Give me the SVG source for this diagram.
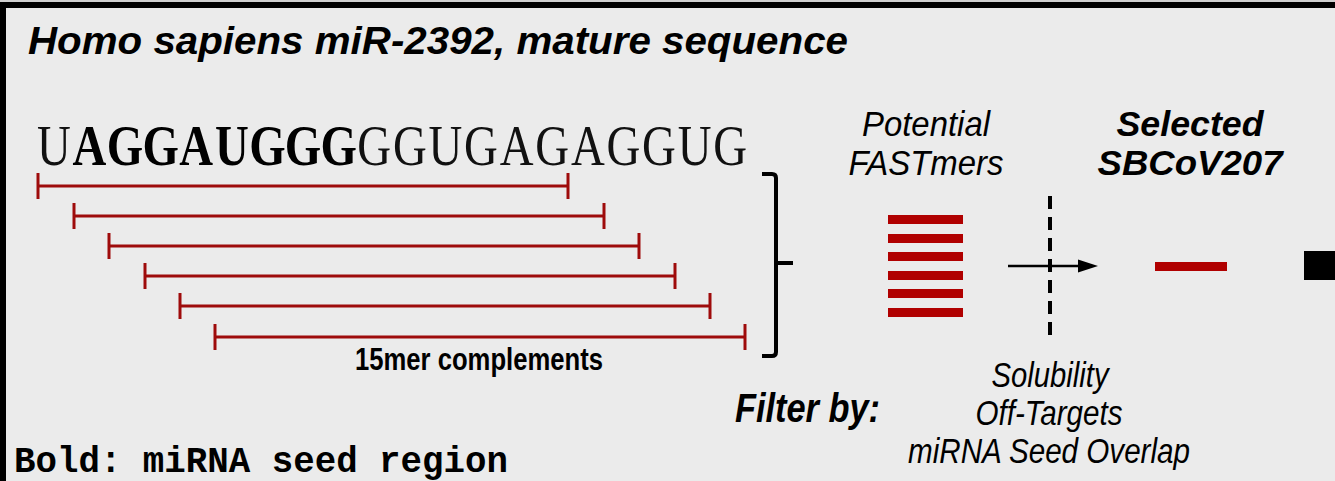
<svg xmlns="http://www.w3.org/2000/svg" width="1335" height="481" viewBox="0 0 1335 481">
  <style>
    .sans { font-family: "Liberation Sans", Arial, sans-serif; fill: #000; }
    .serif { font-family: "Liberation Serif", "Times New Roman", serif; fill: #111; }
    .mono { font-family: "Liberation Mono", "Courier New", monospace; fill: #000; }
    .it { font-style: italic; }
    .bd { font-weight: bold; }
    .span { stroke: #9e0b0b; stroke-width: 3; fill: none; }
    .bar { fill: #b00000; }
    .ink { stroke: #000; fill: none; }
  </style>
  <defs>
    <!-- one 15mer span: horizontal bar with end ticks, 530 px long -->
    <g id="span15">
      <line class="span" x1="0" y1="0" x2="530" y2="0"/>
      <line class="span" x1="0" y1="-13" x2="0" y2="13"/>
      <line class="span" x1="530" y1="-13" x2="530" y2="13"/>
    </g>
  </defs>

  <!-- panel background and frame -->
  <rect x="0" y="0" width="1335" height="481" fill="#ebebeb"/>
  <rect x="0" y="0" width="1335" height="2" fill="#cfcfcf"/>
  <rect x="0" y="2" width="1335" height="6" fill="#000"/>
  <rect x="0" y="2" width="6" height="479" fill="#000"/>

  <g id="title">
    <text class="sans it bd" x="28" y="54" font-size="39" textLength="820" lengthAdjust="spacingAndGlyphs">Homo sapiens miR-2392, mature sequence</text>
  </g>

  <!-- sequence set on a fixed 35.6 px grid, one glyph centred per cell -->
  <g id="sequence">
    <text class="serif" transform="translate(0,165) scale(0.9,1.08)" y="0" font-size="52" text-anchor="middle"><tspan x="59.78">U</tspan><tspan class="bd" fill="#000" x="99.33 138.89 178.44 218.0 257.56 297.11 336.67 376.22">AGGAUGGG</tspan><tspan x="415.78 455.33 494.89 534.44 574.0 613.56 653.11 692.67 732.22 771.78 811.33">GGUGAGAGGUG</tspan></text>
  </g>

  <g id="complements">
    <use href="#span15" x="38" y="186"/>
    <use href="#span15" x="74" y="216"/>
    <use href="#span15" x="109" y="246"/>
    <use href="#span15" x="145" y="276"/>
    <use href="#span15" x="180" y="306"/>
    <use href="#span15" x="215" y="337"/>
    <text class="sans bd" x="479" y="370" font-size="31" text-anchor="middle" textLength="248" lengthAdjust="spacingAndGlyphs">15mer complements</text>
  </g>

  <g id="connectors">
    <!-- brace gathering the complements -->
    <path class="ink" stroke-width="4" d="M762,174 H772 Q776,174 776,178 V352 Q776,356 772,356 H762 M776,263 H793"/>
    <!-- filter gate and arrow -->
    <line class="ink" stroke-width="4" stroke-dasharray="13,8" x1="1050" y1="196" x2="1050" y2="338"/>
    <line class="ink" stroke-width="2.5" x1="1008" y1="266" x2="1082" y2="266"/>
    <polygon points="1078,259.5 1098,266 1078,272.5" fill="#000"/>
  </g>

  <g id="potential">
    <text class="sans it" font-size="35" text-anchor="middle"><tspan x="926" y="136" textLength="128" lengthAdjust="spacingAndGlyphs">Potential</tspan><tspan x="926" y="175" textLength="155" lengthAdjust="spacingAndGlyphs">FASTmers</tspan></text>
    <rect class="bar" x="888" y="215" width="75" height="9"/>
    <rect class="bar" x="888" y="234" width="75" height="9"/>
    <rect class="bar" x="888" y="252" width="75" height="9"/>
    <rect class="bar" x="888" y="271" width="75" height="9"/>
    <rect class="bar" x="888" y="289" width="75" height="9"/>
    <rect class="bar" x="888" y="308" width="75" height="9"/>
  </g>

  <g id="selected">
    <text class="sans it bd" font-size="35" text-anchor="middle"><tspan x="1190" y="136" textLength="147" lengthAdjust="spacingAndGlyphs">Selected</tspan><tspan x="1190" y="175" textLength="185" lengthAdjust="spacingAndGlyphs">SBCoV207</tspan></text>
    <rect class="bar" x="1155" y="262" width="72" height="9"/>
  </g>

  <g id="next-step">
    <rect x="1304" y="251" width="31" height="29" fill="#000"/>
  </g>

  <g id="filter">
    <text class="sans it bd" x="735" y="422" font-size="41" textLength="145" lengthAdjust="spacingAndGlyphs">Filter by:</text>
    <text class="sans it" font-size="35" text-anchor="middle"><tspan x="1050" y="387" textLength="117" lengthAdjust="spacingAndGlyphs">Solubility</tspan><tspan x="1049" y="425" textLength="147" lengthAdjust="spacingAndGlyphs">Off-Targets</tspan><tspan x="1049" y="463" textLength="282" lengthAdjust="spacingAndGlyphs">miRNA Seed Overlap</tspan></text>
  </g>

  <g id="legend">
    <text class="mono bd" x="14" y="472" font-size="36" textLength="494" lengthAdjust="spacingAndGlyphs">Bold: miRNA seed region</text>
  </g>
</svg>
